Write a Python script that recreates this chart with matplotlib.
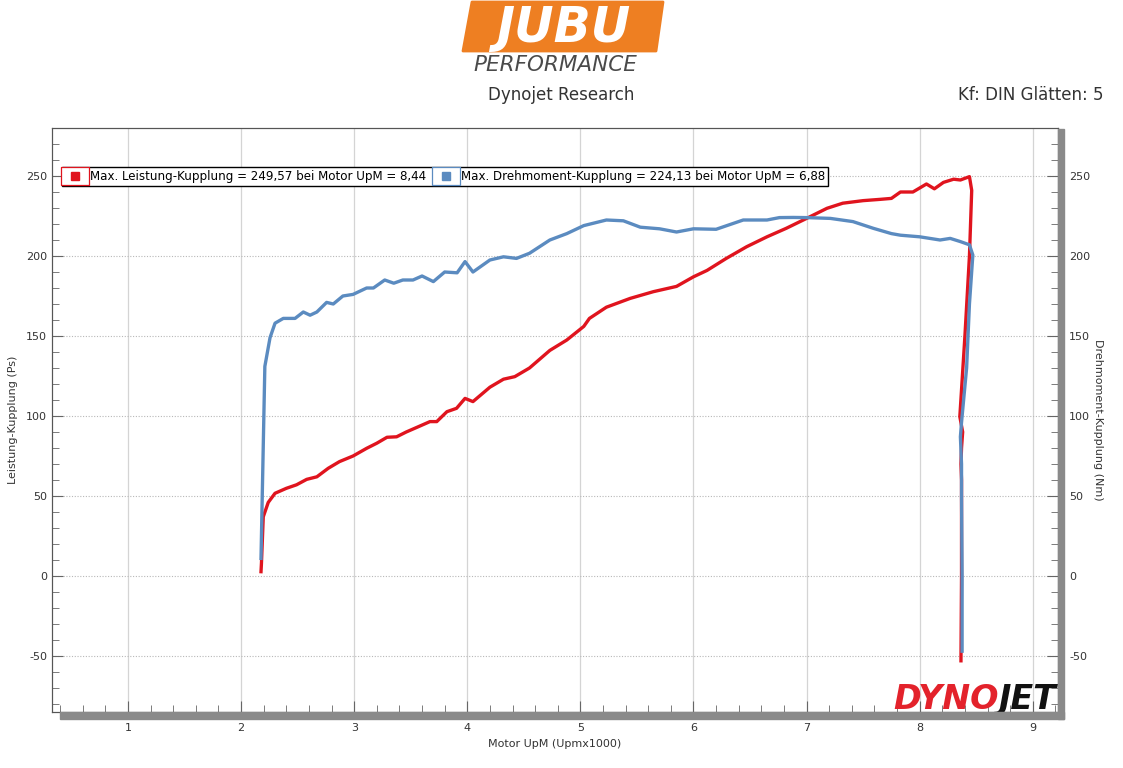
import numpy as np
import matplotlib
matplotlib.use('Agg')
import matplotlib.pyplot as plt
from matplotlib.lines import Line2D
from matplotlib.patches import Polygon, Rectangle
from matplotlib.ticker import MultipleLocator
from matplotlib.legend_handler import HandlerTuple

# Leistung (Ps) ueber Motordrehzahl (Upm x 1000)
rpm_leistung = [2.176, 2.18, 2.196, 2.24, 2.30, 2.40, 2.49, 2.58, 2.67, 2.77, 2.87, 2.99, 3.11,
                3.20, 3.29, 3.375, 3.46, 3.58, 3.67, 3.73, 3.82, 3.905, 3.98, 4.05, 4.20, 4.32,
                4.42, 4.55, 4.73, 4.88, 5.03, 5.08, 5.23, 5.44, 5.645, 5.85, 6.0, 6.12, 6.29,
                6.47, 6.65, 6.82, 7.0, 7.18, 7.32, 7.50, 7.65, 7.75, 7.83, 7.94, 8.06, 8.13,
                8.21, 8.30, 8.36, 8.44, 8.46, 8.44, 8.40, 8.355, 8.38, 8.37, 8.365, 8.37,
                8.37, 8.37, 8.365]
leistung = [2.7, 8, 37, 46, 51.7, 54.8, 57, 60.4, 62, 67.3, 71.5, 75, 79.8, 83, 86.7, 87, 90,
            93.7, 96.5, 96.5, 102.7, 104.8, 111, 109, 118, 123, 124.6, 130, 141, 147.5, 156,
            161, 168, 173.5, 177.7, 181, 187, 191, 198.5, 205.8, 212, 217.3, 223.5, 229.8,
            233, 234.6, 235.4, 236, 240, 240, 245, 242, 246, 248, 247.5, 249.6, 241, 200,
            150, 99.6, 90, 80, 70, 60, 50, 0, -53]

# Drehmoment (Nm)
rpm_drehmoment = [2.176, 2.21, 2.256, 2.30, 2.373, 2.477, 2.55, 2.61, 2.67, 2.756, 2.815, 2.90,
                  2.99, 3.11, 3.17, 3.27, 3.35, 3.43, 3.52, 3.60, 3.70, 3.80, 3.91, 3.98, 4.05,
                  4.20, 4.32, 4.435, 4.55, 4.73, 4.88, 5.03, 5.23, 5.38, 5.53, 5.70, 5.85, 6.0,
                  6.20, 6.44, 6.65, 6.76, 6.88, 7.0, 7.21, 7.41, 7.59, 7.75, 7.83, 8.0, 8.18,
                  8.27, 8.36, 8.44, 8.47, 8.44, 8.415, 8.37, 8.36, 8.37, 8.37, 8.375, 8.375]
drehmoment = [11, 131, 149, 158, 161, 161, 165, 163, 165, 171, 170, 175, 176, 180, 180, 185,
              183, 185, 185, 187.5, 184, 190, 189.5, 196.5, 190, 197.5, 199.5, 198.5, 201.7,
              210, 214, 219, 222.5, 222, 218, 217, 215, 217, 216.7, 222.5, 222.5, 224, 224.1,
              224, 223.5, 221.5, 217.3, 214, 213, 212, 210, 211, 209, 207, 200.6, 170, 130,
              96, 87, 70, 50, 0, -47]

label_leistung = "Max. Leistung-Kupplung = 249,57 bei Motor UpM = 8,44"
label_drehmoment = "Max. Drehmoment-Kupplung = 224,13 bei Motor UpM = 6,88"

rot = '#e0141e'
blau = '#5b8bc0'

plt.rcParams['font.family'] = ['DejaVu Sans']
plt.rcParams['axes.unicode_minus'] = False
fig = plt.figure(figsize=(11.23, 7.68), dpi=100)
ax = fig.add_axes([52/1123, 1-712/768, 1006/1123, 584/768])

ax.set_xlim(0.328, 9.223)
ax.set_ylim(-85, 280)

ax.plot(rpm_leistung, leistung, color=rot, lw=2.4, solid_joinstyle='round', zorder=3)
ax.plot(rpm_drehmoment, drehmoment, color=blau, lw=2.4, solid_joinstyle='round', zorder=4)

# Gitter
for xv in range(1, 10):
    ax.axvline(xv, color='#d4d4d4', lw=0.9, zorder=1)
for yv in range(-50, 251, 50):
    ax.axhline(yv, color='#b8b8b8', lw=0.8, ls=(0, (1, 1.5)), zorder=1)

ax.xaxis.set_major_locator(MultipleLocator(1))
ax.xaxis.set_minor_locator(MultipleLocator(0.2))
ax.yaxis.set_major_locator(MultipleLocator(50))
ax.yaxis.set_minor_locator(MultipleLocator(10))
ax.tick_params(axis='both', which='both', direction='in', colors='#666666', labelcolor='#333333',
               labelsize=8)
ax.tick_params(axis='both', which='major', length=8)
ax.tick_params(axis='both', which='minor', length=5)
ax.tick_params(axis='x', pad=8)
for s in ax.spines.values():
    s.set_color('#555555')

ax2 = ax.twinx()
ax2.set_ylim(ax.get_ylim())
ax2.yaxis.set_major_locator(MultipleLocator(50))
ax2.yaxis.set_minor_locator(MultipleLocator(10))
ax2.tick_params(axis='y', which='both', direction='in', colors='#666666', labelcolor='#333333',
                labelsize=8)
ax2.tick_params(axis='y', which='major', length=8, pad=8)
ax2.tick_params(axis='y', which='minor', length=5)
for s in ax2.spines.values():
    s.set_color('#555555')

ax.set_xlabel("Motor UpM (Upmx1000)", fontsize=8, color='#333333', labelpad=4)
ax.set_ylabel("Leistung-Kupplung (Ps)", fontsize=8, color='#333333', labelpad=6)
ax2.set_ylabel("Drehmoment-Kupplung (Nm)", fontsize=8, color='#333333', rotation=270, labelpad=9)

# Schatten unten und rechts
fig.patches.append(Rectangle((60/1123, 1-719/768), 1004/1123, 7/768, transform=fig.transFigure,
                             color='#8a8a8a', zorder=0))
fig.patches.append(Rectangle((1058/1123, 1-719/768), 6/1123, 590/768, transform=fig.transFigure,
                             color='#8a8a8a', zorder=0))

# Legende
def eintrag(farbe):
    rahmen = Line2D([], [], ls='none', marker=[(-1.6, -1), (1.6, -1), (1.6, 1), (-1.6, 1), (-1.6, -1)],
                    markersize=20, markerfacecolor='white', markeredgecolor=farbe, markeredgewidth=0.9)
    punkt = Line2D([], [], ls='none', marker='s', markersize=5.5, color=farbe)
    return (rahmen, punkt)

leg = ax.legend([eintrag(rot), eintrag(blau)], [label_leistung, label_drehmoment],
                handler_map={tuple: HandlerTuple(ndivide=1, pad=0)},
                loc='upper left', bbox_to_anchor=(0.010, 0.933), borderaxespad=0, ncol=2,
                fontsize=8.6, frameon=True, fancybox=False, edgecolor='black', framealpha=1,
                handlelength=1.6, handletextpad=0.45, columnspacing=0.9, borderpad=0.25)
leg.get_frame().set_linewidth(1.0)
leg.set_zorder(6)

# Logo oben
fig.patches.append(Polygon([(472/1123, 1-2/768), (663/1123, 1-2/768), (656/1123, 1-51/768),
                            (463/1123, 1-51/768)], closed=True, transform=fig.transFigure,
                           facecolor='#ee7f22', edgecolor='#ee7f22', lw=2, joinstyle='round'))
fig.text(563/1123, 1-28/768, "JUBU", ha='center', va='center', fontsize=35, fontweight='heavy',
         style='italic', color='white')
fig.text(555/1123, 1-65/768, "PERFORMANCE", ha='center', va='center', fontsize=15.5,
         style='italic', color='#4a4a4a')
fig.text(561/1123, 1-95/768, "Dynojet Research", ha='center', va='center', fontsize=12,
         color='#333333')
fig.text(1103/1123, 1-95/768, "Kf: DIN Glätten: 5", ha='right', va='center', fontsize=12,
         color='#333333')

# Dynojet-Logo unten rechts
t_dyno = ax.text(893/1123, 1-709/768, "DYNO", transform=fig.transFigure, ha='left', va='baseline',
                 fontsize=24, fontweight='heavy', style='italic', color='#e3222b', zorder=7)
ax.annotate("JET", xy=(1, 0), xycoords=t_dyno, ha='left', va='bottom', fontsize=24,
            fontweight='heavy', style='italic', color='#111111', zorder=7)

fig.savefig('out.png', dpi=100)
